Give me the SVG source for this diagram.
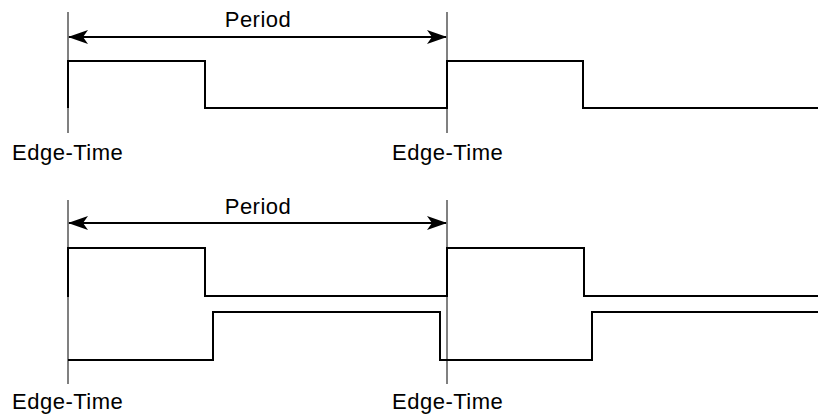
<svg xmlns="http://www.w3.org/2000/svg" width="818" height="418" viewBox="0 0 818 418">
<defs>
<style>
.guide{stroke:#808080;stroke-width:2;fill:none}
.wave{stroke:#000;stroke-width:2;fill:none;stroke-linejoin:miter}
.arr{stroke:#000;stroke-width:2;fill:none;marker-start:url(#ah);marker-end:url(#ah)}
.lbl{font-family:"Liberation Sans",Arial,Helvetica,sans-serif;font-size:22px;letter-spacing:0.5px;fill:#000}
</style>
<marker id="ah" viewBox="0 0 20 14" refX="19" refY="7" markerWidth="20" markerHeight="14" markerUnits="userSpaceOnUse" orient="auto-start-reverse">
<path d="M0,0 L20,7 L0,14 L5,7 Z" fill="#000"/>
</marker>
</defs>
<rect width="818" height="418" fill="#fff"/>
<g id="top">
<g id="top-guides">
<line class="guide" x1="68" y1="12" x2="68" y2="133"/>
<line class="guide" x1="447" y1="12" x2="447" y2="133"/>
</g>
<g id="top-wave">
<polyline class="wave" points="68,108 68,61 205,61 205,108 447,108 447,61 583,61 583,108 818,108"/>
</g>
<g id="top-period">
<line class="arr" x1="69" y1="37" x2="446" y2="37"/>
<text class="lbl" x="258" y="27" text-anchor="middle">Period</text>
</g>
<text class="lbl" x="12" y="160">Edge-Time</text>
<text class="lbl" x="392" y="160">Edge-Time</text>
</g>
<g id="bottom">
<g id="bottom-guides">
<line class="guide" x1="68" y1="200" x2="68" y2="384"/>
<line class="guide" x1="447" y1="200" x2="447" y2="384"/>
</g>
<g id="bottom-wave-a">
<polyline class="wave" points="68,297 68,248 205,248 205,296 447,296 447,248 584,248 584,296 818,296"/>
</g>
<g id="bottom-wave-b">
<polyline class="wave" points="68,360 213,360 213,312 440,312 440,360 592,360 592,312 818,312"/>
</g>
<g id="bottom-period">
<line class="arr" x1="69" y1="223" x2="446" y2="223"/>
<text class="lbl" x="258" y="214" text-anchor="middle">Period</text>
</g>
<text class="lbl" x="12" y="409">Edge-Time</text>
<text class="lbl" x="392" y="409">Edge-Time</text>
</g>
</svg>
